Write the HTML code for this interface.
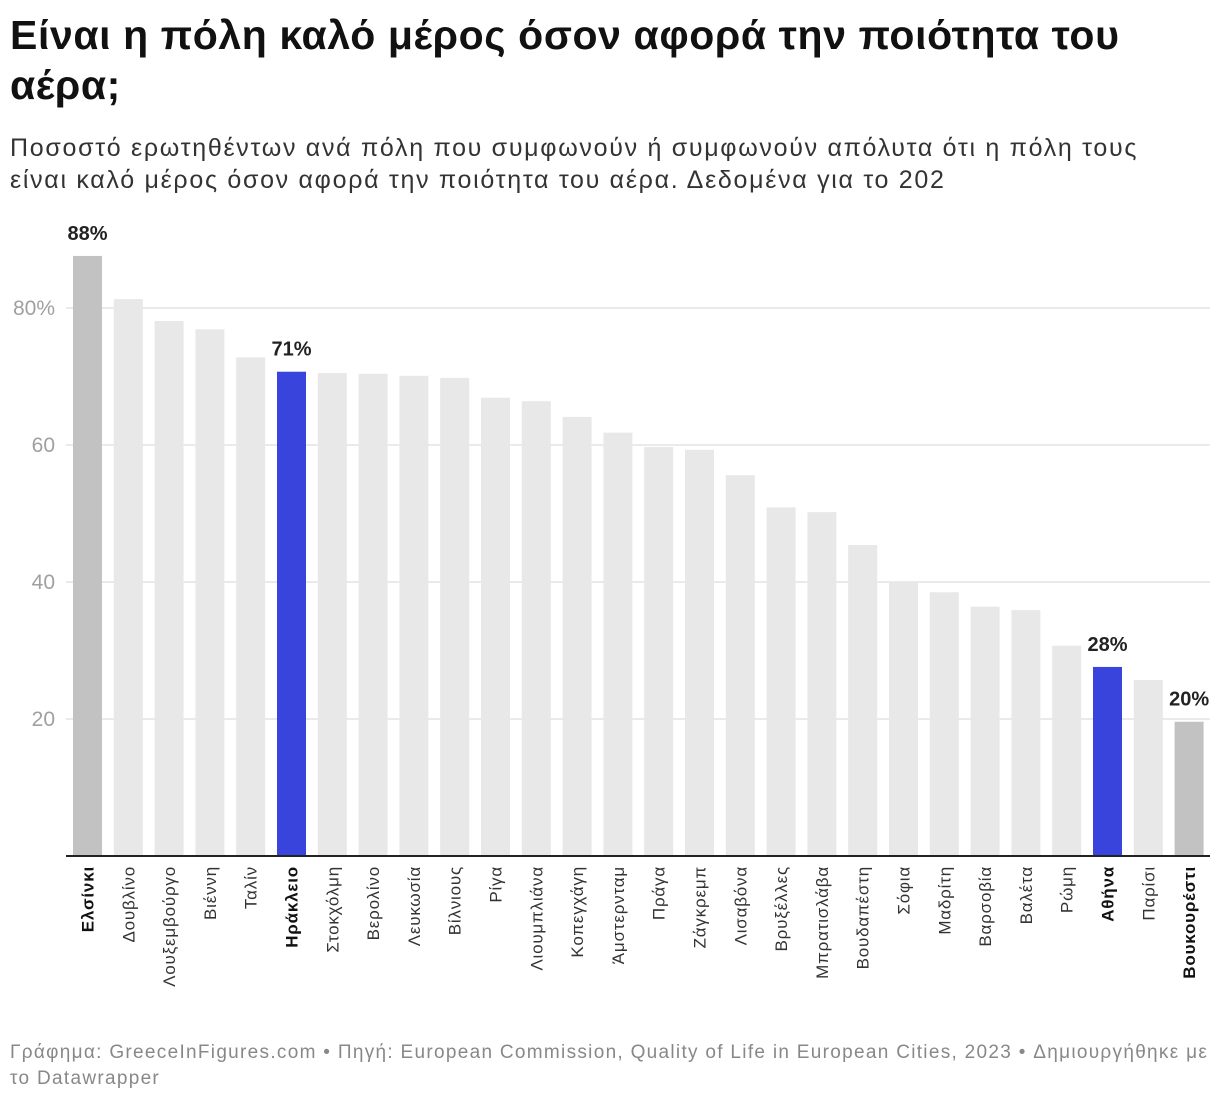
<!DOCTYPE html>
<html><head><meta charset="utf-8">
<style>
body{margin:0;background:#fff;width:1220px;height:1104px;overflow:hidden;font-family:"Liberation Sans","DejaVu Sans",sans-serif;}
h1{position:absolute;left:10px;top:10px;margin:0;font-size:41px;line-height:50px;font-weight:bold;color:#111;width:1210px;letter-spacing:0.6px;white-space:nowrap;}
.sub{position:absolute;left:10px;top:132px;font-size:25px;line-height:32px;color:#333;width:1210px;letter-spacing:1.7px;white-space:nowrap;}
.foot{position:absolute;left:10px;top:1040px;font-size:19px;line-height:26px;color:#888;width:1210px;letter-spacing:1.3px;white-space:nowrap;}
</style></head><body>
<h1>Είναι η πόλη καλό μέρος όσον αφορά την ποιότητα του<br>αέρα;</h1>
<div class="sub">Ποσοστό ερωτηθέντων ανά πόλη που συμφωνούν ή συμφωνούν απόλυτα ότι η πόλη τους<br>είναι καλό μέρος όσον αφορά την ποιότητα του αέρα. Δεδομένα για το 202</div>
<svg id="chart" width="1220" height="1104" style="position:absolute;left:0;top:0"></svg>
<div class="foot">Γράφημα: GreeceInFigures.com • Πηγή: European Commission, Quality of Life in European Cities, 2023 • Δημιουργήθηκε με<br>το Datawrapper</div>
<script>
const categories=["Ελσίνκι","Δουβλίνο","Λουξεμβούργο","Βιέννη","Ταλίν","Ηράκλειο","Στοκχόλμη","Βερολίνο","Λευκωσία","Βίλνιους","Ρίγα","Λιουμπλιάνα","Κοπεγχάγη","Άμστερνταμ","Πράγα","Ζάγκρεμπ","Λισαβόνα","Βρυξέλλες","Μπρατισλάβα","Βουδαπέστη","Σόφια","Μαδρίτη","Βαρσοβία","Βαλέτα","Ρώμη","Αθήνα","Παρίσι","Βουκουρέστι"];
const values=[87.6,81.3,78.1,76.9,72.8,70.7,70.5,70.4,70.1,69.8,66.9,66.4,64.1,61.8,59.7,59.3,55.6,50.9,50.2,45.4,40.1,38.5,36.4,35.9,30.7,27.6,25.7,19.6];
const highlight=["Ελσίνκι","Ηράκλειο","Αθήνα","Βουκουρέστι"];
const tickValues=[20,40,60,80];
const tickLabels=["20","40","60","80%"];
const NS="http://www.w3.org/2000/svg";
const svg=document.getElementById('chart');
const y0=856,pxPer=6.85;
const yScale=v=>y0-v*pxPer;
const x0=73,step=40.8,bw=29;
const xScale=i=>x0+i*step;
function mk(t,a){const e=document.createElementNS(NS,t);for(const k in a)e.setAttribute(k,a[k]);svg.appendChild(e);return e;}
tickValues.forEach((t,i)=>{
  const l=mk('line',{x1:66,x2:1210,y1:yScale(t),y2:yScale(t),stroke:'#e3e3e3','stroke-width':1.5});
  
  
  const tx=mk('text',{x:55,y:yScale(t)+7,'text-anchor':'end','font-size':21,fill:'#a0a0a0'});
  tx.textContent=tickLabels[i];
  
  
});
categories.forEach((c,i)=>{
  const v=values[i];
  let col='#e8e8e8';
  if(c==="Ηράκλειο"||c==="Αθήνα")col='#3944dc';
  else if(c==="Ελσίνκι"||c==="Βουκουρέστι")col='#c2c2c2';
  const r=mk('rect',{x:xScale(i),y:yScale(v),width:bw,height:v*pxPer,fill:col});
  
  
  const hl=highlight.includes(c);
  if(hl){
    const t=mk('text',{x:xScale(i)+bw/2,y:yScale(v)-16,'text-anchor':'middle','font-size':20,'font-weight':'bold',fill:'#222'});
    t.textContent=Math.round(v)+'%';
    
    
  }
  const cx=xScale(i)+bw/2+6;
  const lab=mk('text',{x:cx,y:866,transform:`rotate(-90 ${cx} 866)`,'text-anchor':'end','font-size':17,'letter-spacing':0.8,'font-weight':hl?'bold':'normal',fill:hl?'#111':'#333'});
  lab.textContent=c;
  
  
});
const base=mk('line',{x1:66,x2:1210,y1:y0,y2:y0,stroke:'#222','stroke-width':2});


</script>
</body></html>
